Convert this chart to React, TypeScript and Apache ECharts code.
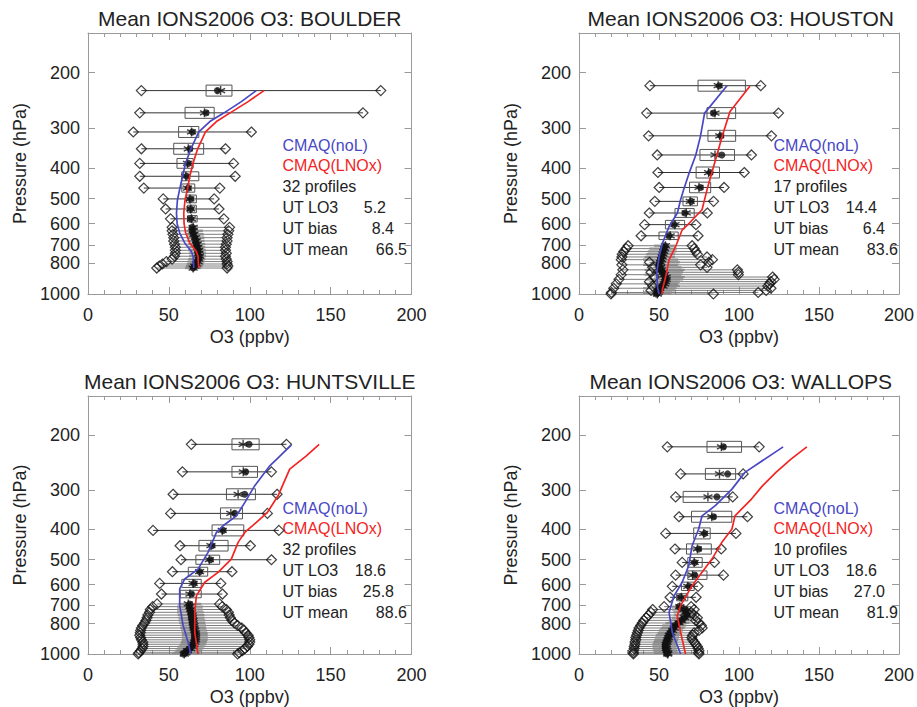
import React, { useEffect, useRef } from 'react';
import * as echarts from 'echarts';

const FONT = '"Liberation Sans", Arial, Helvetica, sans-serif';
const TXT = '#222';
const AX = '#9a9a9a';
const BLUE = '#4848c4';
const RED = '#f22424';

const STATION_NAMES = ['BOULDER', 'HOUSTON', 'HUNTSVILLE', 'WALLOPS'];
const PROFILE_COUNTS = [32, 17, 32, 10];
const UT_LO3 = ['5.2', '14.4', '18.6', '18.6'];
const UT_BIAS = ['8.4', '6.4', '25.8', '27.0'];
const UT_MEAN = ['66.5', '83.6', '88.6', '81.9'];

const X_TICKS_INTERVAL = 50;
const P_TICKS = [200, 300, 400, 500, 600, 700, 800, 1000];
const P_TOP = 150;
const P_BOTTOM = 1000;

// ---------------- BOULDER ----------------
const BOU_P = [228, 268, 308, 348, 387, 425, 463, 501, 539, 579, 616, 632, 648, 664, 680, 696, 712, 728, 744, 760, 776, 790, 804, 816, 828];
const BOU_MIN = [33, 32, 28, 33, 32, 32, 34.5, 46.5, 48, 51, 52, 52, 52.5, 53, 53, 53.5, 54, 54, 54, 53.5, 52, 48.5, 46, 44, 42.5];
const BOU_Q1 = [73, 60, 56, 53, 55, 58, 58, 61, 61.5, 61.5, 62, 61, 61, 61.5, 61.5, 62, 62, 62, 62.5, 62.5, 62, 61.5, 61, 60.5, 60];
const BOU_MED = [80, 73, 64.5, 63, 62, 61, 62, 63.5, 63.5, 63.5, 64.5, 64.5, 65, 66, 66.5, 67, 67.5, 68, 68, 68.5, 68.5, 67.5, 67, 66, 65];
const BOU_MEAN = [82, 72, 64, 62, 61.5, 60.5, 61.5, 63, 63.5, 64, 65, 65, 65.5, 66.5, 67, 67.5, 68, 68.5, 68.5, 69, 68.5, 68, 67, 66, 65];
const BOU_Q3 = [89, 78, 68.5, 71.5, 65, 68.5, 66, 67, 67, 67.5, 68, 71, 71.5, 72, 72, 72.5, 72.5, 73, 73, 73, 72.5, 72, 71.5, 71, 70];
const BOU_MAX = [181, 170, 101, 85, 90, 91, 81.5, 78, 81, 84, 87.5, 87, 86.5, 86, 86, 85.5, 85, 85, 85.5, 85, 85.5, 86, 86, 86.5, 86];
const BOU_NOL_P = [228, 247, 268.5, 285.5, 308, 348, 386, 425.6, 466.5, 504, 555, 600, 642, 690, 734, 761, 828];
const BOU_NOL = [104, 94.8, 83.9, 75.3, 68.5, 63.6, 60.4, 58.4, 56.7, 55.3, 54.7, 55.1, 56.7, 59.8, 63.9, 65, 65.4];
const BOU_LNOX_P = [228, 247, 268.5, 285.5, 308, 348, 386, 425.6, 466.5, 504, 555, 600, 642, 690, 734, 761, 828];
const BOU_LNOX = [108.8, 99, 87.6, 79.4, 72.6, 67.8, 65, 62.9, 61.5, 60, 59.2, 59.4, 60.4, 62.9, 67, 68, 68.4];

// ---------------- HOUSTON ----------------
const HOU_P = [220, 268.5, 316.7, 364, 413.5, 461, 510, 555, 604, 655, 704, 719, 734, 749, 764, 779, 794, 809, 824, 839, 854, 869, 884, 899, 914, 929, 944, 959, 974, 989, 1000];
const HOU_MIN = [44.3, 42.3, 43.5, 48.9, 49.3, 50.1, 47.4, 43.9, 41, 38.8, 30.7, 29.5, 28, 27, 26.8, 26.4, 44, 26.8, 46, 27.4, 45, 26.4, 47, 25, 44, 23.3, 46, 21.7, 45, 20.3, 20];
const HOU_Q1 = [74.4, 80, 80.6, 75.6, 73.2, 69.1, 65, 60, 54, 50, 47, 44, 43, 42, 41, 40, 46, 40, 47, 41, 46, 41, 48, 42, 46, 41, 47, 40, 46, 40, 40];
const HOU_MED = [87.6, 84.1, 88.6, 89.3, 82, 75.9, 70.1, 66.2, 59.4, 56.3, 53.8, 53, 52.5, 52, 51.5, 51, 50.5, 50, 50.5, 51, 52, 53, 54, 54, 53.5, 53, 52, 50, 49.5, 49, 48.5];
const HOU_MEAN = [87, 85, 88, 85, 81, 75, 69.5, 67, 60, 57, 54, 53.5, 53, 52.5, 52, 51.5, 51, 50.5, 51, 51.5, 52.5, 53.5, 54.5, 54.5, 54, 53.5, 52.5, 50.5, 50, 49.5, 49];
const HOU_Q3 = [104, 97.9, 97.9, 97.2, 87.8, 82.3, 74, 72, 66, 62, 60, 61, 61, 60, 60, 62, 63, 62, 64, 66, 65, 64, 66, 65, 63, 62, 63, 61, 60, 58, 57];
const HOU_MAX = [113.6, 124.7, 120.3, 107.8, 103.3, 90.7, 84.1, 80.2, 73.1, 74.4, 70.7, 72, 73, 74, 80, 83.4, 81, 76, 80, 99, 99.6, 99.6, 121, 122, 120, 119, 118, 120, 117, 112, 84];
const HOU_NOL_P = [220, 268.5, 318, 364, 413, 469, 504, 555, 612, 690, 761, 859, 946, 1000];
const HOU_NOL = [92.5, 78.5, 75.9, 73, 69, 65.4, 63.5, 61.5, 56.3, 52.2, 50.1, 48.6, 49, 50];
const HOU_LNOX_P = [221, 265.5, 316.7, 364, 413, 469, 542, 597, 627, 708, 780, 880, 969, 1000];
const HOU_LNOX = [106.8, 94.4, 89.6, 86.2, 83.1, 80, 76.9, 69, 64.5, 60.4, 56.3, 54.2, 52.1, 52];

// ---------------- HUNTSVILLE ----------------
const HUN_P = [214, 262, 309, 355.6, 403, 451, 500, 546, 595, 643.5, 692, 706, 721, 736, 751, 766, 781, 796, 811, 826, 841, 856, 871, 886, 901, 916, 931, 946, 961, 976, 991, 1000];
const HUN_MIN = [63.9, 58.4, 52.6, 51.1, 40.2, 56.9, 57.5, 52.2, 44.3, 45.4, 42.7, 40, 38.5, 38, 37, 36.5, 35.8, 35, 33.8, 33, 32.5, 32.3, 32, 32.5, 33, 33.8, 34, 34, 33.5, 32.5, 31.5, 31];
const HUN_Q1 = [89, 89, 85.6, 81.9, 76.7, 68.6, 66.7, 62, 58, 57, 56, 55, 55, 55, 55.5, 56, 56, 56.5, 57, 57, 57.5, 58, 58, 58, 58, 57.5, 57, 56, 55, 54, 53, 52];
const HUN_MED = [99.6, 97.5, 96.9, 90.7, 83.5, 76.7, 75.7, 69.1, 65.6, 63.9, 62.9, 62.5, 63, 63.5, 64, 64, 64.5, 64.5, 65, 65, 65.5, 66, 66, 66, 66, 65.5, 65, 64, 63, 61, 60, 59];
const HUN_MEAN = [95.9, 96, 92.8, 88.3, 83, 76, 75, 69, 65, 63, 62, 63, 63.5, 64, 64.5, 64.5, 65, 65, 65.5, 65.5, 66, 66.5, 66.5, 66.5, 66.5, 66, 65.5, 64.5, 63.5, 61.5, 60.5, 59.5];
const HUN_Q3 = [105.8, 104.8, 103.5, 95.5, 96.3, 86.6, 81.4, 74, 70, 70, 70, 71, 71, 71.5, 72, 72, 72.5, 72.5, 73, 73, 73.5, 74, 74, 74, 74, 73.5, 73, 72, 71, 70, 69, 68];
const HUN_MAX = [122.7, 113.4, 116.9, 110.9, 118, 100.4, 113.4, 89, 82.1, 83.1, 81.4, 83, 85.5, 86.8, 87.3, 88, 89, 90.5, 92.5, 95, 96.5, 97.5, 99, 99.5, 100, 100, 99.5, 98.5, 97, 95.5, 93.5, 92.5];
const HUN_NOL_P = [215, 250.6, 290, 328, 362, 389.6, 409, 473.5, 535.6, 576, 620, 701, 812, 918, 1000];
const HUN_NOL = [125.8, 112.4, 103.1, 97, 91.8, 83.5, 79.4, 74.2, 68, 59.8, 56.7, 56.7, 58.8, 61.9, 63.5];
const HUN_LNOX_P = [214, 233, 256.7, 312.5, 353, 380, 409, 440, 497.6, 548.5, 590, 652, 736, 853, 1000];
const HUN_LNOX = [142.9, 135, 124.7, 117.5, 110.9, 104.1, 96.9, 92.8, 88.6, 80.4, 72.2, 67, 66, 66, 68];

// ---------------- WALLOPS ----------------
const WAL_P = [218, 266, 315, 364.5, 412, 462, 510, 560, 608, 659, 706, 721, 736, 751, 766, 781, 796, 811, 826, 841, 856, 871, 886, 901, 916, 931, 946, 961, 976, 991, 1000];
const WAL_MIN = [55.2, 63.5, 60.4, 62.5, 54.2, 60, 64.5, 60.4, 58.3, 56.9, 53.2, 46, 45, 43.5, 42, 40.5, 39.5, 38.5, 37.5, 37, 36.5, 36, 35.5, 35.5, 35, 35, 34.5, 34.5, 34, 34, 34];
const WAL_Q1 = [80, 79, 65.1, 70.3, 71.7, 67.2, 68, 68, 64, 61, 58, 58, 59, 59.5, 58, 56, 54, 52, 51, 50, 49, 48, 47.5, 47, 46.5, 46, 46, 46, 46.5, 47, 47];
const WAL_MED = [90.3, 92.9, 86.2, 84.1, 78.5, 74.8, 72.3, 72.3, 68.6, 63.5, 62.5, 66, 67, 67.5, 66, 64, 62, 60, 59, 58, 57, 56, 55.5, 55, 54.5, 54, 54, 54, 54.5, 55, 55];
const WAL_MEAN = [89, 87.8, 80.6, 83, 78, 74, 72, 71, 68, 64, 63, 65.5, 66.5, 67, 66, 64, 62.5, 60.5, 59.5, 58.5, 57.5, 56.5, 56, 55.5, 55, 54.5, 54.5, 54.5, 55, 55.5, 55.5];
const WAL_Q3 = [101.6, 97.9, 93.8, 95.5, 82, 82.7, 77, 80, 72, 68, 67, 72, 73, 73.5, 72, 70, 69, 67, 66, 65, 64, 63, 62.5, 62, 61.5, 61, 61, 61, 61.5, 62, 62];
const WAL_MAX = [112.6, 102.6, 96.1, 105.3, 98.1, 88.9, 84.7, 90.3, 74.4, 73.2, 70.1, 72, 70, 72, 74, 73, 75, 76.5, 77, 75, 72, 71, 70.5, 71, 72, 73, 74, 74.5, 75, 74.8, 75];
const WAL_NOL_P = [218, 263, 297.5, 336, 362, 399, 451, 522, 590, 652, 736, 853, 1000];
const WAL_NOL = [127.6, 103.7, 95.6, 85.2, 76.9, 74.8, 70.7, 68.6, 64.5, 59.4, 56.3, 58.3, 63.5];
const WAL_LNOX_P = [218, 238.5, 263, 290, 320, 362, 399, 440, 497.6, 548.5, 605, 701, 755, 853, 1000];
const WAL_LNOX = [142.4, 132.5, 123.1, 114.8, 107.8, 97.5, 95.6, 89.3, 83.1, 76.9, 70.7, 63.5, 61.4, 63.5, 66.6];

type Station = {
  p: number[]; min: number[]; q1: number[]; med: number[]; mean: number[]; q3: number[]; max: number[];
  nolP: number[]; nol: number[]; lnoxP: number[]; lnox: number[];
};

const STATIONS: Station[] = [
  { p: BOU_P, min: BOU_MIN, q1: BOU_Q1, med: BOU_MED, mean: BOU_MEAN, q3: BOU_Q3, max: BOU_MAX, nolP: BOU_NOL_P, nol: BOU_NOL, lnoxP: BOU_LNOX_P, lnox: BOU_LNOX },
  { p: HOU_P, min: HOU_MIN, q1: HOU_Q1, med: HOU_MED, mean: HOU_MEAN, q3: HOU_Q3, max: HOU_MAX, nolP: HOU_NOL_P, nol: HOU_NOL, lnoxP: HOU_LNOX_P, lnox: HOU_LNOX },
  { p: HUN_P, min: HUN_MIN, q1: HUN_Q1, med: HUN_MED, mean: HUN_MEAN, q3: HUN_Q3, max: HUN_MAX, nolP: HUN_NOL_P, nol: HUN_NOL, lnoxP: HUN_LNOX_P, lnox: HUN_LNOX },
  { p: WAL_P, min: WAL_MIN, q1: WAL_Q1, med: WAL_MED, mean: WAL_MEAN, q3: WAL_Q3, max: WAL_MAX, nolP: WAL_NOL_P, nol: WAL_NOL, lnoxP: WAL_LNOX_P, lnox: WAL_LNOX },
];

const GRIDS = [
  { left: 88, top: 33, width: 323.5, height: 261 },
  { left: 579, top: 33, width: 323.5, height: 261 },
  { left: 88, top: 396, width: 323.5, height: 259 },
  { left: 579, top: 396, width: 323.5, height: 259 },
];

const lg = (v: number) => Math.log10(v);

function buildOption() {
  const grid: any[] = [];
  const xAxis: any[] = [];
  const yAxis: any[] = [];
  const series: any[] = [];
  const graphic: any[] = [];

  const pTickVals = P_TICKS.map(lg);

  STATIONS.forEach((st, i) => {
    const g = GRIDS[i];
    grid.push({ left: g.left, top: g.top, width: g.width, height: g.height, containLabel: false });

    const baseX = {
      gridIndex: i, type: 'value', min: 0, max: 200, interval: X_TICKS_INTERVAL,
      axisLine: { show: true, onZero: false, lineStyle: { color: AX, width: 1 } },
      axisTick: { show: true, inside: true, length: 7, lineStyle: { color: AX, width: 1 } },
      minorTick: { show: true, splitNumber: 5, length: 4, lineStyle: { color: AX, width: 1 } },
      splitLine: { show: false },
    };
    xAxis.push({
      ...baseX, position: 'bottom',
      name: 'O3 (ppbv)', nameLocation: 'middle', nameGap: 34,
      nameTextStyle: { fontSize: 18, color: TXT, fontFamily: FONT },
      axisLabel: { show: true, fontSize: 18, color: TXT, fontFamily: FONT, margin: 12 },
    });
    xAxis.push({ ...baseX, position: 'top', axisLabel: { show: false } });

    const baseY = {
      gridIndex: i, type: 'value', min: lg(P_TOP), max: lg(P_BOTTOM), inverse: true,
      axisLine: { show: true, onZero: false, lineStyle: { color: AX, width: 1 } },
      axisTick: { show: true, inside: true, length: 7, customValues: pTickVals, lineStyle: { color: AX, width: 1 } },
      splitLine: { show: false },
    };
    yAxis.push({
      ...baseY, position: 'left',
      name: 'Pressure (hPa)', nameLocation: 'middle', nameGap: 59, nameRotate: 90,
      nameTextStyle: { fontSize: 18, color: TXT, fontFamily: FONT },
      axisLabel: {
        show: true, customValues: pTickVals, fontSize: 18, color: TXT, fontFamily: FONT, margin: 8,
        formatter: (v: number) => String(Math.round(Math.pow(10, v))),
      },
    });
    yAxis.push({ ...baseY, position: 'right', axisLabel: { show: false } });

    const xi = 2 * i;
    const yi = 2 * i;
    const lps = st.p.map(lg);

    // whiskers + boxes
    series.push({
      type: 'custom', xAxisIndex: xi, yAxisIndex: yi, silent: true, clip: true, z: 2,
      encode: { x: [0, 1, 2, 3], y: 4 },
      data: st.p.map((p, j) => [st.min[j], st.max[j], st.q1[j], st.q3[j], lps[j], j]),
      renderItem: (params: any, api: any) => {
        const lp = api.value(4);
        const j = api.value(5);
        const a = api.coord([api.value(0), lp]);
        const b = api.coord([api.value(1), lp]);
        const c1 = api.coord([api.value(2), lp]);
        const c3 = api.coord([api.value(3), lp]);
        let gap = 40;
        [j - 1, j + 1].forEach((k) => {
          if (k >= 0 && k < lps.length) {
            const yk = api.coord([0, lps[k]])[1];
            gap = Math.min(gap, Math.abs(yk - a[1]));
          }
        });
        const hh = Math.max(1.1, Math.min(5.5, gap * 0.38));
        const thin = hh < 3;
        return {
          type: 'group',
          children: [
            { type: 'line', shape: { x1: a[0], y1: a[1], x2: b[0], y2: a[1] }, style: { stroke: thin ? '#5a5a5a' : '#333', lineWidth: thin ? 0.8 : 1 } },
            {
              type: 'rect',
              shape: { x: c1[0], y: a[1] - hh, width: c3[0] - c1[0], height: 2 * hh },
              style: thin
                ? { fill: '#8c8c8c', stroke: 'none' }
                : { fill: 'rgba(0,0,0,0)', stroke: '#555', lineWidth: 1 },
            },
          ],
        };
      },
    });

    // diamonds at min and max
    const dia: number[][] = [];
    st.p.forEach((p, j) => {
      dia.push([st.min[j], lps[j]]);
      dia.push([st.max[j], lps[j]]);
    });
    series.push({
      type: 'scatter', xAxisIndex: xi, yAxisIndex: yi, silent: true, z: 3,
      symbol: 'diamond', symbolSize: [10, 10],
      itemStyle: { color: 'rgba(0,0,0,0)', borderColor: '#111', borderWidth: 1.2 },
      data: dia,
    });
    // medians
    series.push({
      type: 'scatter', xAxisIndex: xi, yAxisIndex: yi, silent: true, z: 4,
      symbol: 'circle', symbolSize: 7,
      itemStyle: { color: '#111' },
      data: st.p.map((p, j) => [st.med[j], lps[j]]),
    });
    // means (asterisk)
    series.push({
      type: 'scatter', xAxisIndex: xi, yAxisIndex: yi, silent: true, z: 4,
      symbol: 'path://M5 0L5 10M0.67 2.5L9.33 7.5M0.67 7.5L9.33 2.5', symbolSize: 9,
      itemStyle: { color: 'rgba(0,0,0,0)', borderColor: '#111', borderWidth: 1.4 },
      data: st.p.map((p, j) => [st.mean[j], lps[j]]),
    });
    // model lines
    series.push({
      type: 'line', xAxisIndex: xi, yAxisIndex: yi, silent: true, z: 6,
      showSymbol: false, symbol: 'none',
      lineStyle: { color: BLUE, width: 1.7 },
      data: st.nolP.map((p, j) => [st.nol[j], lg(p)]),
    });
    series.push({
      type: 'line', xAxisIndex: xi, yAxisIndex: yi, silent: true, z: 6,
      showSymbol: false, symbol: 'none',
      lineStyle: { color: RED, width: 1.7 },
      data: st.lnoxP.map((p, j) => [st.lnox[j], lg(p)]),
    });

    // title
    graphic.push({
      type: 'text', x: g.left + g.width / 2, y: g.top - 15, silent: true,
      style: {
        text: `Mean IONS2006 O3: ${STATION_NAMES[i]}`, fill: TXT, fontSize: 21, fontFamily: FONT,
        textAlign: 'center', textVerticalAlign: 'middle', align: 'center', verticalAlign: 'middle',
      },
    });

    // legend / stats block
    const lx = g.left + 194.5;
    const ly = g.top + 112;
    const step = 20.9;
    const rows: [string, string, string?][] = [
      ['CMAQ(noL)', BLUE],
      ['CMAQ(LNOx)', RED],
      [`${PROFILE_COUNTS[i]} profiles`, TXT],
      ['UT LO3', TXT, UT_LO3[i]],
      ['UT bias', TXT, UT_BIAS[i]],
      ['UT mean', TXT, UT_MEAN[i]],
    ];
    const valueEnds = [0, 0, 0, 298, 306, 319];
    rows.forEach((r, k) => {
      graphic.push({
        type: 'text', x: lx, y: ly + k * step, silent: true,
        style: {
          text: r[0], fill: r[1], fontSize: 16, fontFamily: FONT,
          textAlign: 'left', textVerticalAlign: 'middle', align: 'left', verticalAlign: 'middle',
        },
      });
      if (r[2]) {
        graphic.push({
          type: 'text', x: g.left + valueEnds[k], y: ly + k * step, silent: true,
          style: {
            text: r[2], fill: TXT, fontSize: 16, fontFamily: FONT,
            textAlign: 'right', textVerticalAlign: 'middle', align: 'right', verticalAlign: 'middle',
          },
        });
      }
    });
  });

  return {
    animation: false,
    backgroundColor: '#ffffff',
    textStyle: { fontFamily: FONT },
    grid, xAxis, yAxis, series, graphic,
  };
}

export default function App() {
  const ref = useRef<HTMLDivElement>(null);
  useEffect(() => {
    document.body.style.margin = '0';
    if (!ref.current) return;
    const chart = echarts.init(ref.current, undefined, { renderer: 'svg' });
    chart.setOption(buildOption() as any);
    return () => chart.dispose();
  }, []);
  return <div ref={ref} style={{ width: 917, height: 707, background: '#fff' }} />;
}
